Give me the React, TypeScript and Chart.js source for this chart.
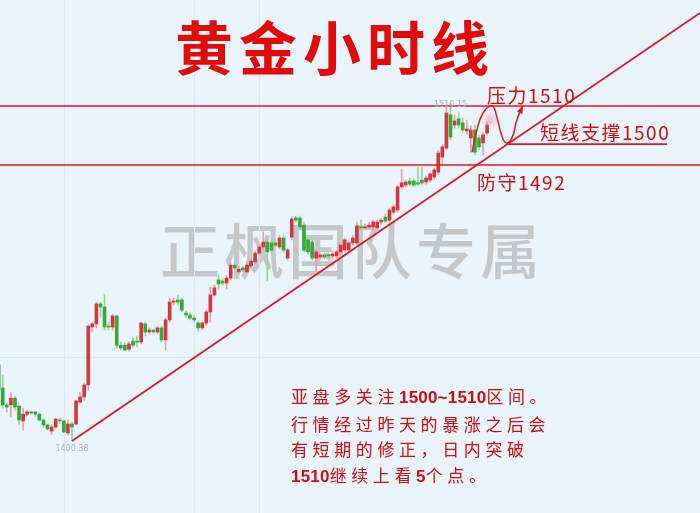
import React, { useEffect, useRef } from "react";
import { Chart, registerables } from "chart.js";

Chart.register(...registerables);

// ---- Candle data (hourly gold) ----
const opens = [
  1425.1, 1417.6, 1412.1, 1412.1, 1414.3, 1411.7, 1406.9, 1409.1, 1409.8, 1409.8,
  1409.1, 1407.2, 1405.6, 1403.6, 1404.9, 1407.2, 1406.9, 1403.0, 1405.9, 1405.9,
  1413.0, 1414.7, 1418.6, 1437.4, 1438.4, 1444.9, 1443.9, 1437.7, 1437.4, 1441.0,
  1431.5, 1431.5, 1430.2, 1432.8, 1432.8, 1432.5, 1438.4, 1435.8, 1436.4, 1435.8,
  1437.1, 1433.2, 1439.7, 1445.5, 1446.2, 1446.2, 1441.9, 1441.3, 1440.3, 1438.7,
  1437.1, 1438.7, 1442.3, 1447.8, 1452.7, 1452.3, 1451.7, 1453.3, 1457.5, 1455.3,
  1456.6, 1455.3, 1457.2, 1458.5, 1461.4, 1463.4, 1465.0, 1464.7, 1464.7, 1463.4,
  1466.3, 1459.8, 1466.6, 1472.8, 1472.8, 1470.5, 1465.7, 1465.0, 1459.8, 1460.1,
  1460.8, 1460.8, 1460.5, 1460.5, 1461.8, 1462.4, 1462.4, 1464.7, 1464.7, 1469.9,
  1469.6, 1469.9, 1469.9, 1469.6, 1471.5, 1473.1, 1472.1, 1474.7, 1475.4, 1482.9,
  1483.5, 1484.8, 1484.8, 1484.2, 1485.1, 1484.5, 1485.1, 1486.1, 1487.7, 1492.6,
  1495.5, 1506.3, 1503.0, 1505.0, 1503.7, 1501.1, 1498.8, 1501.4, 1498.8, 1497.2,
  1500.4,
];
const highs = [
  1427.0, 1421.8, 1412.7, 1416.0, 1415.0, 1412.1, 1411.1, 1410.4, 1410.1, 1410.1,
  1409.5, 1407.5, 1405.9, 1405.6, 1407.8, 1407.8, 1407.2, 1407.2, 1406.5, 1413.7,
  1416.3, 1419.2, 1438.0, 1439.0, 1445.5, 1445.5, 1448.1, 1439.0, 1441.6, 1441.3,
  1432.5, 1432.2, 1432.5, 1433.8, 1434.5, 1439.0, 1439.0, 1437.1, 1436.7, 1437.7,
  1437.7, 1440.3, 1446.8, 1446.8, 1447.8, 1446.8, 1442.6, 1441.9, 1441.0, 1439.3,
  1439.0, 1442.9, 1450.4, 1451.0, 1454.3, 1453.0, 1454.0, 1458.5, 1458.2, 1457.2,
  1457.2, 1458.5, 1459.5, 1462.1, 1464.4, 1468.3, 1465.7, 1465.7, 1465.7, 1467.0,
  1467.0, 1463.1, 1473.1, 1473.4, 1473.4, 1471.5, 1466.3, 1465.7, 1462.4, 1461.4,
  1461.4, 1461.4, 1461.8, 1462.4, 1464.7, 1466.3, 1465.3, 1467.0, 1471.5, 1472.1,
  1470.8, 1471.5, 1472.1, 1472.1, 1472.8, 1474.1, 1476.0, 1477.0, 1483.5, 1488.7,
  1485.1, 1485.8, 1485.5, 1489.4, 1489.4, 1486.4, 1487.7, 1489.0, 1494.6, 1496.5,
  1508.9, 1510.15, 1506.3, 1506.9, 1505.3, 1504.6, 1502.7, 1503.0, 1499.8, 1500.4,
  1504.0,
];
const lows = [
  1416.3, 1411.1, 1409.8, 1408.2, 1410.4, 1405.6, 1403.9, 1408.5, 1409.1, 1408.2,
  1406.9, 1404.9, 1403.9, 1402.6, 1404.3, 1406.2, 1403.0, 1402.3, 1400.38, 1405.6,
  1412.7, 1413.7, 1416.9, 1435.8, 1437.1, 1440.6, 1436.4, 1436.4, 1436.4, 1430.6,
  1429.9, 1429.6, 1429.6, 1430.9, 1430.9, 1431.9, 1434.5, 1435.1, 1435.4, 1435.1,
  1432.5, 1429.9, 1439.0, 1444.5, 1444.5, 1442.3, 1440.6, 1439.7, 1439.0, 1436.1,
  1436.4, 1438.0, 1439.0, 1447.5, 1449.7, 1451.0, 1449.7, 1452.7, 1455.9, 1454.6,
  1455.3, 1454.9, 1456.6, 1457.9, 1460.8, 1462.4, 1452.3, 1461.8, 1463.4, 1462.7,
  1461.8, 1459.2, 1465.7, 1471.5, 1469.2, 1461.8, 1461.1, 1459.2, 1455.3, 1459.5,
  1459.5, 1459.8, 1459.8, 1459.8, 1461.1, 1461.8, 1461.8, 1464.0, 1464.0, 1468.9,
  1468.9, 1469.2, 1469.2, 1468.9, 1470.8, 1471.2, 1471.5, 1474.1, 1474.7, 1482.2,
  1482.9, 1483.2, 1482.9, 1483.2, 1483.5, 1483.8, 1484.5, 1485.5, 1486.8, 1490.0,
  1494.9, 1498.1, 1502.0, 1502.0, 1500.7, 1500.1, 1494.2, 1493.3, 1494.9, 1493.3,
  1499.8,
];
const closes = [
  1416.9, 1412.1, 1411.4, 1414.3, 1411.4, 1407.2, 1409.1, 1409.8, 1409.5, 1409.1,
  1407.2, 1405.6, 1404.3, 1404.9, 1407.5, 1406.9, 1403.3, 1405.9, 1404.9, 1413.4,
  1414.7, 1418.6, 1437.7, 1438.4, 1444.9, 1443.9, 1437.4, 1437.4, 1441.0, 1431.5,
  1430.6, 1429.9, 1431.9, 1431.5, 1432.5, 1438.7, 1435.8, 1436.4, 1435.8, 1437.1,
  1433.2, 1439.7, 1445.5, 1445.8, 1445.5, 1442.9, 1441.3, 1440.3, 1439.7, 1437.1,
  1438.7, 1442.3, 1447.8, 1450.1, 1451.4, 1451.7, 1453.3, 1457.5, 1456.6, 1456.2,
  1455.9, 1457.5, 1458.8, 1461.4, 1463.4, 1465.0, 1461.8, 1462.4, 1464.0, 1466.3,
  1462.4, 1462.4, 1472.5, 1472.1, 1469.9, 1462.4, 1461.8, 1459.8, 1461.8, 1460.8,
  1460.1, 1460.5, 1461.1, 1461.8, 1464.0, 1465.7, 1464.7, 1466.3, 1470.2, 1469.6,
  1469.9, 1470.5, 1471.5, 1471.5, 1472.1, 1471.8, 1475.4, 1476.4, 1482.9, 1484.2,
  1484.5, 1483.8, 1483.5, 1483.8, 1484.2, 1485.8, 1487.1, 1488.4, 1493.9, 1495.9,
  1506.9, 1499.1, 1504.3, 1503.0, 1501.4, 1501.7, 1501.4, 1494.2, 1495.9, 1499.8,
  1503.0,
];

// ---- Scale ranges (candle index / price) ----
const X_MIN = 0.32;
const X_MAX = 172.3;
const Y_MIN = 1377.0;
const Y_MAX = 1543.6;

// ---- Annotation levels ----
const pressureLevel = 1509.2; // 压力1510
const defenseLevel = 1490.0; // 防守1492
const supportLevel = 1496.8; // 短线支撑1500
const supportFrom = 124.9;
const supportTo = 164.2;
const trendX = [18, 172.3];
const trendY = [1400.38, 1539.4];
const curveX = [116.3, 117.5, 119.0, 121.2, 122.4, 123.4, 124.6, 126.1, 127.3, 128.6];
const curveY = [1494.2, 1501.4, 1506.9, 1509.2, 1505.6, 1500.4, 1497.2, 1498.8, 1504.6, 1508.85];
const gridX = [16, 48, 64];
const gridY = [1427.6];
const highIdx = 111;
const lowIdx = 18;
const highLabel = "1510.15";
const lowLabel = "1400.38";
const glowPoint = { x: 120.7, y: 1504.6 };

const RED = "#D7363D";
const GREEN = "#36A936";
const RED_WICK = "#EBA0A6";
const GREEN_WICK = "#96D596";
const LINE_RED = "#E4161E";

const FONT = '"Noto Sans CJK SC", "Noto Sans", sans-serif';

const App = () => {
  const ref = useRef<HTMLCanvasElement | null>(null);

  useEffect(() => {
    const canvas = ref.current;
    if (!canvas) return;
    const up = closes.map((c, i) => c >= opens[i]);

    const annot = {
      id: "annot",
      beforeDatasetsDraw(chart: any) {
        const { ctx, chartArea, scales } = chart;
        ctx.save();
        ctx.strokeStyle = "#DCE7F1";
        ctx.lineWidth = 1;
        gridX.forEach((g) => {
          const px = Math.round(scales.x.getPixelForValue(g)) + 0.5;
          ctx.beginPath();
          ctx.moveTo(px, chartArea.top);
          ctx.lineTo(px, chartArea.bottom);
          ctx.stroke();
        });
        gridY.forEach((g) => {
          const py = Math.round(scales.y.getPixelForValue(g)) + 0.5;
          ctx.beginPath();
          ctx.moveTo(chartArea.left, py);
          ctx.lineTo(chartArea.right, py);
          ctx.stroke();
        });
        ctx.restore();
      },
      afterDatasetsDraw(chart: any) {
        const { ctx, scales } = chart;
        ctx.save();
        // glow of last price
        const gx = scales.x.getPixelForValue(glowPoint.x);
        const gy = scales.y.getPixelForValue(glowPoint.y);
        const grad = ctx.createRadialGradient(gx, gy, 0, gx, gy, 9);
        grad.addColorStop(0, "rgba(240,120,130,0.45)");
        grad.addColorStop(1, "rgba(240,120,130,0)");
        ctx.fillStyle = grad;
        ctx.beginPath();
        ctx.arc(gx, gy, 9, 0, Math.PI * 2);
        ctx.fill();
        // arrow head at end of curve
        const n = curveX.length;
        const tx = scales.x.getPixelForValue(curveX[n - 1]);
        const ty = scales.y.getPixelForValue(curveY[n - 1]);
        const sx = scales.x.getPixelForValue(curveX[n - 2]);
        const sy = scales.y.getPixelForValue(curveY[n - 2]);
        const ang = Math.atan2(ty - sy, tx - sx);
        const L = 7;
        ctx.fillStyle = LINE_RED;
        ctx.beginPath();
        ctx.moveTo(tx + Math.cos(ang) * 2, ty + Math.sin(ang) * 2);
        ctx.lineTo(tx - Math.cos(ang - 0.45) * L, ty - Math.sin(ang - 0.45) * L);
        ctx.lineTo(tx - Math.cos(ang + 0.45) * L, ty - Math.sin(ang + 0.45) * L);
        ctx.closePath();
        ctx.fill();
        // extreme labels
        ctx.fillStyle = "#A9B1BA";
        ctx.font = "8px 'DejaVu Sans', sans-serif";
        ctx.textAlign = "center";
        ctx.textBaseline = "alphabetic";
        ctx.fillText(
          highLabel,
          scales.x.getPixelForValue(highIdx),
          scales.y.getPixelForValue(highs[highIdx]) + 3.5
        );
        ctx.fillText(
          lowLabel,
          scales.x.getPixelForValue(lowIdx),
          scales.y.getPixelForValue(lows[lowIdx]) + 9.5
        );
        ctx.restore();
      },
    };

    const hline = (level: number, from: number, to: number) => [
      { x: from, y: level },
      { x: to, y: level },
    ];

    const chart = new Chart(canvas, {
      type: "bar",
      data: {
        datasets: [
          {
            type: "line",
            data: hline(pressureLevel, X_MIN - 2, X_MAX + 2),
            borderColor: LINE_RED,
            borderWidth: 1.6,
            pointRadius: 0,
            order: 0,
          } as any,
          {
            type: "line",
            data: hline(defenseLevel, X_MIN - 2, X_MAX + 2),
            borderColor: LINE_RED,
            borderWidth: 1.6,
            pointRadius: 0,
            order: 0,
          } as any,
          {
            type: "line",
            data: hline(supportLevel, supportFrom, supportTo),
            borderColor: LINE_RED,
            borderWidth: 1.6,
            pointRadius: 0,
            order: 0,
          } as any,
          {
            type: "line",
            data: trendX.map((x, i) => ({ x, y: trendY[i] })),
            borderColor: LINE_RED,
            borderWidth: 1.8,
            pointRadius: 0,
            order: 0,
          } as any,
          {
            type: "line",
            data: curveX.map((x, i) => ({ x, y: curveY[i] })),
            borderColor: LINE_RED,
            borderWidth: 1.5,
            pointRadius: 0,
            tension: 0.45,
            order: 0,
          } as any,
          {
            type: "bar",
            data: opens.map((o, i) => ({ x: i, y: [o, closes[i]] })),
            backgroundColor: up.map((u) => (u ? RED : GREEN)),
            barThickness: 3,
            minBarLength: 1,
            grouped: false,
            order: 1,
          } as any,
          {
            type: "bar",
            data: lows.map((l, i) => ({ x: i, y: [l, highs[i]] })),
            backgroundColor: up.map((u) => (u ? RED_WICK : GREEN_WICK)),
            barThickness: 1,
            grouped: false,
            order: 2,
          } as any,
        ],
      },
      options: {
        responsive: false,
        animation: false,
        devicePixelRatio: 1,
        layout: { padding: 0 },
        plugins: {
          legend: { display: false },
          tooltip: { enabled: false },
          title: { display: false },
        },
        scales: {
          x: { type: "linear", min: X_MIN, max: X_MAX, display: false, offset: false },
          y: { type: "linear", min: Y_MIN, max: Y_MAX, display: false },
        },
      } as any,
      plugins: [annot],
    });
    return () => chart.destroy();
  }, []);

  const label = (extra: React.CSSProperties): React.CSSProperties => ({
    position: "absolute",
    fontFamily: FONT,
    color: "#D90B0B",
    whiteSpace: "nowrap",
    zIndex: 3,
    ...extra,
  });

  const digits: React.CSSProperties = {
    letterSpacing: "0.2px",
    fontFamily: '"Liberation Sans", Arial, sans-serif',
    fontWeight: 700,
  };
  const para: React.CSSProperties = {
    fontSize: 17,
    lineHeight: "25.5px",
    letterSpacing: "4.6px",
  };

  return (
    <div
      style={{
        position: "fixed",
        left: 0,
        top: 0,
        width: 700,
        height: 513,
        overflow: "hidden",
        background: "#EAF4FC",
      }}
    >
      <div
        style={label({
          left: 160,
          top: 218,
          fontSize: 60,
          lineHeight: "60px",
          letterSpacing: "4px",
          color: "#C5C8CB",
          fontWeight: 500,
          zIndex: 0,
        })}
      >
        正枫国队专属
      </div>
      <canvas
        ref={ref}
        width={700}
        height={513}
        style={{ position: "absolute", left: 0, top: 0, width: 700, height: 513, zIndex: 1 }}
      />
      <div
        style={label({
          left: 175,
          top: 16,
          fontSize: 58,
          lineHeight: "58px",
          letterSpacing: "6px",
          fontWeight: 700,
          color: "#E30A0A",
        })}
      >
        黄金小时线
      </div>
      <div style={label({ left: 487, top: 85, fontSize: 19, lineHeight: "19px", letterSpacing: "1.5px" })}>
        压力1510
      </div>
      <div style={label({ left: 540, top: 122, fontSize: 19, lineHeight: "19px", letterSpacing: "1.5px" })}>
        短线支撑1500
      </div>
      <div style={label({ left: 477, top: 172, fontSize: 19, lineHeight: "19px", letterSpacing: "1.5px" })}>
        防守1492
      </div>
      <div style={label({ left: 291, top: 383, ...para })}>
        <div>
          亚盘多关注<span style={digits}>1500~1510</span>区间。
        </div>
        <div>行情经过昨天的暴涨之后会</div>
        <div>有短期的修正，日内突破</div>
        <div>
          <span style={digits}>1510</span>继续上看<span style={digits}>5</span>个点。
        </div>
      </div>
    </div>
  );
};

export default App;
